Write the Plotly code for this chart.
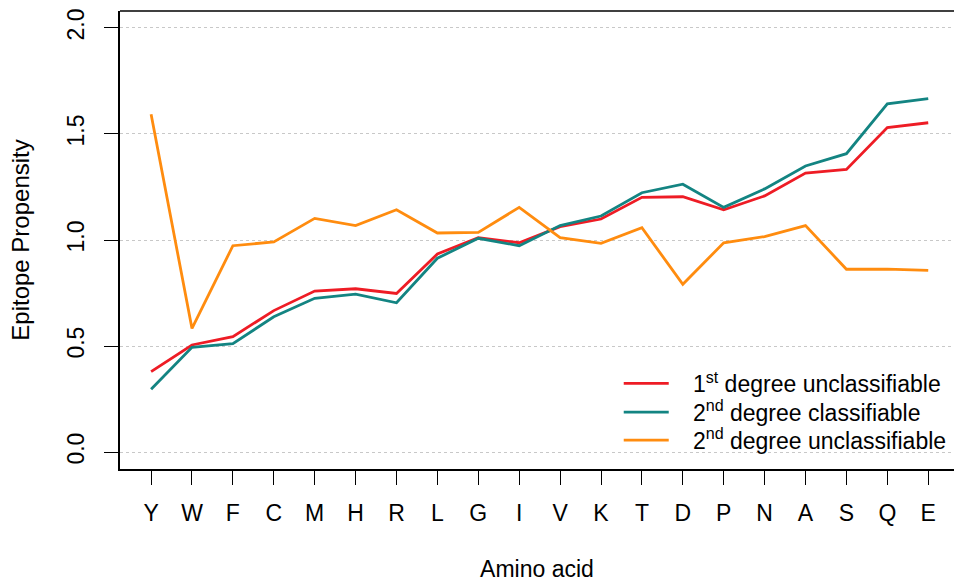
import plotly.graph_objects as go

amino_acids = ["Y", "W", "F", "C", "M", "H", "R", "L", "G", "I",
               "V", "K", "T", "D", "P", "N", "A", "S", "Q", "E"]

first_unclass = [0.379, 0.505, 0.544, 0.667, 0.759, 0.770, 0.748, 0.934, 1.011, 0.987,
                 1.063, 1.099, 1.201, 1.204, 1.142, 1.208, 1.316, 1.333, 1.530, 1.553]

second_class = [0.296, 0.494, 0.511, 0.638, 0.725, 0.745, 0.704, 0.914, 1.008, 0.973,
                1.068, 1.113, 1.223, 1.263, 1.154, 1.241, 1.349, 1.407, 1.642, 1.667]

second_unclass = [1.593, 0.583, 0.973, 0.991, 1.102, 1.068, 1.143, 1.033, 1.036, 1.154,
                  1.011, 0.984, 1.058, 0.791, 0.987, 1.016, 1.068, 0.862, 0.863, 0.857]

y_ticks = [0.0, 0.5, 1.0, 1.5, 2.0]
y_tick_labels = ["0.0", "0.5", "1.0", "1.5", "2.0"]

PAD = "\u00a0\u00a0\u00a0"
series = [
    (PAD + "1<sup>st</sup> degree unclassifiable", first_unclass, "#EE1C25", "legend", 0.234),
    (PAD + "2<sup>nd</sup> degree classifiable", second_class, "#138482", "legend2", 0.171),
    (PAD + "2<sup>nd</sup> degree unclassifiable", second_unclass, "#FF8C0F", "legend3", 0.110),
]

FONT = "Liberation Sans, Arial, sans-serif"
FS = 23

fig = go.Figure()
legend_layouts = {}
for name, vals, color, lg, ly in series:
    fig.add_trace(go.Scatter(
        x=list(range(len(amino_acids))), y=vals, mode="lines", name=name,
        line=dict(color=color, width=2.8), legend=lg,
    ))
    legend_layouts[lg] = dict(
        x=0.598, y=ly, xanchor="left", yanchor="top",
        bgcolor="rgba(0,0,0,0)", borderwidth=0, itemwidth=45,
        font=dict(family=FONT, size=FS, color="black"),
    )

fig.update_layout(
    width=954, height=582,
    margin=dict(l=120, r=0, t=11, b=113),
    paper_bgcolor="white", plot_bgcolor="white",
    font=dict(family=FONT, size=FS, color="black"),
    showlegend=True,
    **legend_layouts,
    xaxis=dict(
        range=[-0.76, 19.63],
        tickmode="array",
        tickvals=list(range(len(amino_acids))),
        ticktext=amino_acids,
        showgrid=False, zeroline=False,
        showline=True, linecolor="black", linewidth=1.5,
        ticks="outside", ticklen=14, tickwidth=1.2, tickcolor="black",
        ticklabelstandoff=9,
        tickfont=dict(family=FONT, size=FS, color="black"),
        title=dict(text="Amino acid", standoff=44,
                   font=dict(family=FONT, size=FS, color="black")),
        automargin=False,
    ),
    yaxis=dict(
        range=[-0.08, 2.08],
        tickmode="array", tickvals=y_ticks, ticktext=y_tick_labels,
        tickangle=-90,
        showgrid=True, gridcolor="#C8C8C8", griddash="dot", gridwidth=1,
        zeroline=False,
        showline=True, linecolor="black", linewidth=1.5,
        ticks="outside", ticklen=14, tickwidth=1.2, tickcolor="black",
        ticklabelstandoff=11,
        tickfont=dict(family=FONT, size=FS, color="black"),
        title=dict(text="Epitope Propensity", standoff=27,
                   font=dict(family=FONT, size=24, color="black")),
        automargin=False,
    ),
    shapes=[dict(type="line", xref="paper", yref="paper", x0=0, x1=1, y0=1, y1=1,
                 line=dict(color="black", width=1.5))],
)

fig.write_html("out.html")
